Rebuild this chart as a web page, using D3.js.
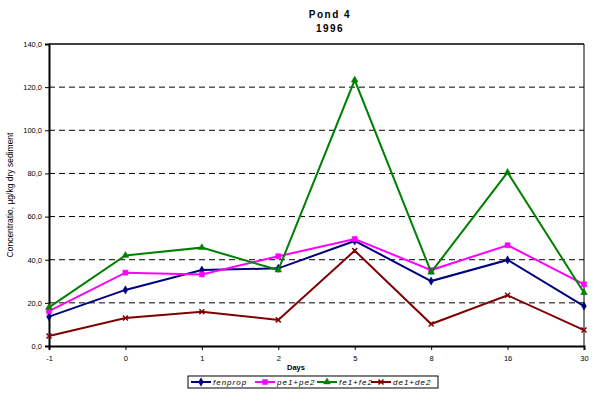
<!DOCTYPE html>
<html>
<head>
<meta charset="utf-8">
<script src="https://cdn.jsdelivr.net/npm/d3@7"></script>
<style>
  body { margin: 0; background: #fff; }
  svg { font-family: "Liberation Sans", Arial, sans-serif; }
</style>
</head>
<body>
<svg></svg>
<script>
const days = ["-1", "0", "1", "2", "5", "8", "16", "30"];
const fenprop = [13.6, 26.0, 35.2, 36.0, 48.7, 30.1, 39.9, 18.5];
const pe1pe2 = [16.2, 34.0, 33.2, 41.6, 49.6, 35.2, 46.7, 28.6];
const fe1fe2 = [17.9, 42.0, 45.6, 35.2, 123.3, 34.2, 80.5, 24.7];
const de1de2 = [4.6, 13.0, 15.9, 12.1, 44.2, 10.2, 23.5, 7.4];
const yTicks = [0, 20, 40, 60, 80, 100, 120, 140];

const series = [
    { name: "fenprop", values: fenprop, color: "#000080", symbol: "diamond" },
    { name: "pe1+pe2", values: pe1pe2, color: "#ff00ff", symbol: "square" },
    { name: "fe1+fe2", values: fe1fe2, color: "#008000", symbol: "triangle" },
    { name: "de1+de2", values: de1de2, color: "#800000", symbol: "cross" }
];

const svg = d3.select("svg").attr("width", 593).attr("height", 393);
const plotLeft = 49, plotRight = 584, plotTop = 44, plotBottom = 346;

const x = d3.scalePoint().domain(days).range([plotLeft, plotRight]);
const y = d3.scaleLinear().domain([0, 140]).range([plotBottom, plotTop]);

// title
svg.append("text").attr("x", 330).attr("y", 18).attr("text-anchor", "middle")
    .attr("font-size", 10).attr("font-weight", "bold").attr("letter-spacing", 1.5)
    .text("Pond 4");
svg.append("text").attr("x", 330).attr("y", 32).attr("text-anchor", "middle")
    .attr("font-size", 10).attr("font-weight", "bold").attr("letter-spacing", 1.5)
    .text("1996");

// gridlines
svg.append("g").selectAll("line")
    .data(yTicks.filter(d => d > 0 && d < 140))
    .join("line")
    .attr("x1", plotLeft).attr("x2", plotRight)
    .attr("y1", d => y(d)).attr("y2", d => y(d))
    .attr("stroke", "#000").attr("stroke-dasharray", "6,4");

// plot frame (top and right)
svg.append("line").attr("x1", plotLeft).attr("x2", plotRight).attr("y1", plotTop).attr("y2", plotTop)
    .attr("stroke", "#000").attr("stroke-width", 1.5);
svg.append("line").attr("x1", plotRight).attr("x2", plotRight).attr("y1", plotTop).attr("y2", plotBottom)
    .attr("stroke", "#000").attr("stroke-width", 1);

// axes
const yAxis = svg.append("g").attr("transform", "translate(" + plotLeft + ",0)")
    .call(d3.axisLeft(y).tickValues(yTicks).tickSize(4).tickPadding(3)
        .tickFormat(d => d3.format(".1f")(d).replace(".", ",")));
const xAxis = svg.append("g").attr("transform", "translate(0," + plotBottom + ")")
    .call(d3.axisBottom(x).tickSize(4).tickPadding(6));
[yAxis, xAxis].forEach(function(a) {
    a.select(".domain").attr("stroke-width", 2);
    a.selectAll("text").attr("font-size", 7.5).attr("font-family", "Liberation Sans, Arial, sans-serif")
        .attr("fill", "#000");
});

// axis titles
svg.append("text").attr("x", 296).attr("y", 370).attr("text-anchor", "middle")
    .attr("font-size", 7.5).attr("font-weight", "bold").text("Days");
svg.append("text").attr("transform", "translate(13,195) rotate(-90)")
    .attr("text-anchor", "middle").attr("font-size", 8.5)
    .text("Concentratio, µg/kg dry sediment");

const line = d3.line().x((d, i) => x(days[i])).y(d => y(d));
const symbolSize = { diamond: 20, square: 26, triangle: 20 };
function symbolPath(s) {
    if (s === "cross") {
        return "M-2.5,-2.5L2.5,2.5M-2.5,2.5L2.5,-2.5";
    }
    const type = { diamond: d3.symbolDiamond, square: d3.symbolSquare, triangle: d3.symbolTriangle }[s];
    return d3.symbol().type(type).size(symbolSize[s])();
}

series.forEach(function(s) {
    svg.append("path").datum(s.values)
        .attr("d", line).attr("fill", "none")
        .attr("stroke", s.color).attr("stroke-width", 2);
    svg.append("g").selectAll("path")
        .data(s.values)
        .join("path")
        .attr("transform", (d, i) => "translate(" + x(days[i]) + "," + y(d) + ")")
        .attr("d", symbolPath(s.symbol))
        .attr("fill", s.color)
        .attr("stroke", s.color)
        .attr("stroke-width", s.symbol === "cross" ? 1.5 : 0.5);
});

// legend
const legend = svg.append("g").attr("transform", "translate(188,376)");
legend.append("rect").attr("width", 250).attr("height", 12)
    .attr("fill", "#fff").attr("stroke", "#000").attr("stroke-width", 1);
const legendX = [3, 67, 129, 183];
series.forEach(function(s, i) {
    const g = legend.append("g").attr("transform", "translate(" + legendX[i] + ",6)");
    g.append("line").attr("x1", 0).attr("x2", 20).attr("stroke", s.color).attr("stroke-width", 2);
    g.append("path").attr("transform", "translate(10,0)").attr("d", symbolPath(s.symbol))
        .attr("fill", s.color).attr("stroke", s.color)
        .attr("stroke-width", s.symbol === "cross" ? 1.5 : 0.5);
    g.append("text").attr("x", 22).attr("y", 3).attr("font-size", 8)
        .attr("font-style", "italic").attr("letter-spacing", 1).text(s.name);
});
</script>
</body>
</html>
